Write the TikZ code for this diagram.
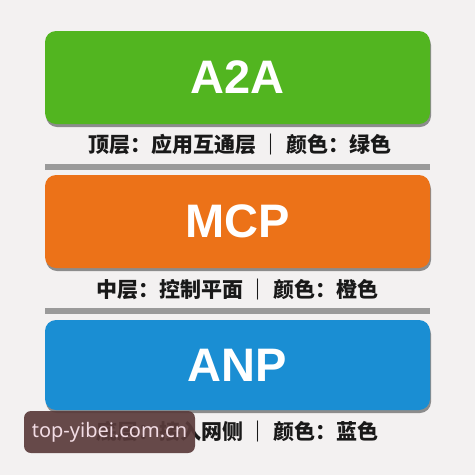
\documentclass[tikz,border=0pt]{standalone}
\usepackage{fontspec}
\setmainfont{Liberation Sans}
\newfontfamily\cjk{Noto Sans CJK SC}
\newfontfamily\wmfont{Noto Sans}
\usetikzlibrary{shadows}
\definecolor{bg}{HTML}{F3F1F1}
\definecolor{layergreen}{HTML}{52B520}
\definecolor{layerorange}{HTML}{EC7218}
\definecolor{layerblue}{HTML}{1A8ED3}
\definecolor{bargray}{HTML}{9A9A9A}
\definecolor{wmbrown}{HTML}{5A3B3B}
\definecolor{wmtext}{HTML}{F2DCE4}
\tikzset{
	layer/.style={rounded corners=11pt, minimum width=385pt, minimum height=93pt, inner sep=0pt,
		text=white, font=\fontsize{47}{47}\selectfont\bfseries,
		drop shadow={shadow xshift=1pt, shadow yshift=-3pt, fill=black!45, opacity=1}},
	caption/.style={font=\cjk\bfseries\fontsize{21}{21}\selectfont, text=black!90, inner sep=0pt},
	sepbar/.style={fill=bargray, minimum width=385pt, minimum height=6pt, inner sep=0pt},
	wm/.style={fill=wmbrown, fill opacity=.92, text opacity=1, text=wmtext, rounded corners=7pt,
		minimum width=171pt, minimum height=42pt, inner sep=0pt, font=\wmfont\fontsize{20}{20}\selectfont},
}
\begin{document}
\begin{tikzpicture}[x=1pt,y=-1pt]
	\fill[bg] (0,0) rectangle (475,475);
	\useasboundingbox (0,0) rectangle (475,475);

	% A2A
	\node[layer, fill=layergreen] (a2a) at (237.5,77.5) {A2A};
	\node[caption] (a2acap) at (240,145) {顶层：应用互通层\hspace{0.2em}｜\hspace{0.2em}颜色：绿色};
	\node[sepbar] (bar1) at (237.5,166.5) {};

	% MCP
	\node[layer, fill=layerorange] (mcp) at (237.5,221.5) {MCP};
	\node[caption] (mcpcap) at (237.5,290) {中层：控制平面\hspace{0.2em}｜\hspace{0.2em}颜色：橙色};
	\node[sepbar] (bar2) at (237.5,311) {};

	% ANP
	\node[layer, fill=layerblue, minimum height=90pt] (anp) at (237.5,365) {ANP};
	\node[caption] (anpcap) at (237.5,432) {底层：接入网侧\hspace{0.2em}｜\hspace{0.2em}颜色：蓝色};

	% watermark
	\node[wm] (wmark) at (109.5,432) {top-yibei.com.cn};
\end{tikzpicture}
\end{document}
